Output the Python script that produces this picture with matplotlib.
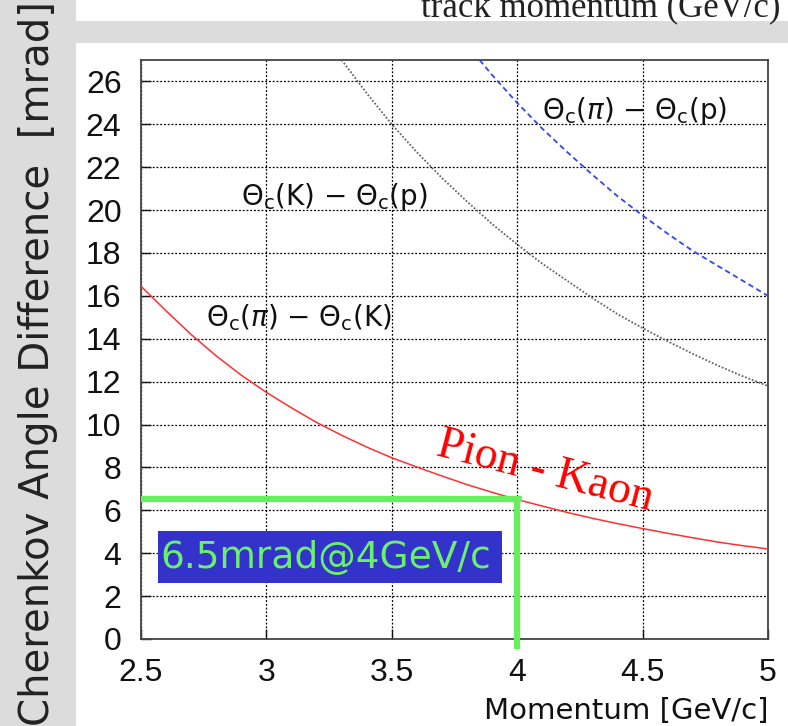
import numpy as np
import matplotlib
matplotlib.use('Agg')
import matplotlib.pyplot as plt
from matplotlib.patches import Rectangle

# momentum points (GeV/c) and angle differences (mrad)
p_pik = [2.5, 2.6, 2.7, 2.8, 2.9, 3.0, 3.1, 3.2, 3.3, 3.4, 3.5, 3.6, 3.7,
         3.8, 3.9, 4.0, 4.1, 4.2, 4.3, 4.4, 4.5, 4.6, 4.7, 4.8, 4.9, 5.0]
d_pik = [16.45, 15.3, 14.2, 13.2, 12.3, 11.5, 10.78, 10.1, 9.5, 8.95, 8.45, 8.02, 7.6,
         7.2, 6.84, 6.5, 6.2, 5.9, 5.63, 5.38, 5.15, 4.93, 4.72, 4.52, 4.35, 4.2]

p_kp = [3.3, 3.4, 3.5, 3.6, 3.7, 3.8, 3.9, 4.0, 4.1, 4.2, 4.3, 4.4, 4.5,
        4.6, 4.7, 4.8, 4.9, 5.0]
d_kp = [27.0, 25.45, 24.0, 22.7, 21.5, 20.4, 19.35, 18.4, 17.5, 16.7, 15.9, 15.15, 14.5,
        13.88, 13.3, 12.75, 12.25, 11.8]

p_pip = [3.85, 3.9, 4.0, 4.1, 4.2, 4.3, 4.4, 4.5, 4.6, 4.7, 4.8, 4.9, 5.0]
d_pip = [27.0, 26.3, 25.0, 23.8, 22.7, 21.65, 20.65, 19.75, 18.9, 18.1, 17.4, 16.7, 16.0]

xticks = [2.5, 3, 3.5, 4, 4.5, 5]
xtick_labels = ['2.5', '3', '3.5', '4', '4.5', '5']
yticks = list(range(0, 27, 2))

# working point marked in green
spec_p = 4.0
spec_d = 6.5

W, H = 788, 726
fig = plt.figure(figsize=(W / 100, H / 100), dpi=100)
fig.patch.set_facecolor('white')

# grey frame pieces of the slide
grey = '#dcdcdc'
fig.patches.append(Rectangle((0, 0), 76 / W, 1, transform=fig.transFigure,
                             facecolor=grey, edgecolor='none', zorder=0))
fig.patches.append(Rectangle((76 / W, 1 - 43 / H), 1, 22 / H, transform=fig.transFigure,
                             facecolor=grey, edgecolor='none', zorder=0))

fig.text(780 / W, 1 - 16 / H, 'track momentum (GeV/c)', ha='right', va='baseline',
         fontsize=25, family='Liberation Serif', color='#222222')

fig.text(38 / W, 0.5, 'Cherenkov Angle Difference  [mrad]', rotation=90,
         ha='center', va='center', fontsize=29, color='#222222')

ax = fig.add_axes([141 / W, 1 - 639 / H, (768 - 141) / W, (639 - 60) / H])
ax.set_xlim(2.5, 5)
ax.set_ylim(0, 27)

ax.plot(p_pik, d_pik, color='#ff3030', lw=1.1, zorder=3)
ax.plot(p_kp, d_kp, color='#666666', lw=1.3, linestyle=(0, (1, 1)), zorder=3)
ax.plot(p_pip, d_pip, color='#3344ff', lw=1.3, linestyle=(0, (3, 2)), zorder=3)

ax.set_xticks(xticks)
ax.set_xticklabels(xtick_labels)
ax.set_yticks(yticks)
ax.tick_params(direction='in', length=7, width=1, pad=14, labelsize=23,
               colors='#111111')
for lab in ax.get_xticklabels() + ax.get_yticklabels():
    lab.set_family('Liberation Sans')
ax.grid(True, color='black', linestyle=(0, (1.5, 1.5)), lw=0.9)
ax.set_axisbelow(True)
for s in ax.spines.values():
    s.set_color('#444444')
    s.set_linewidth(1.3)

ax.set_xlabel('Momentum [GeV/c]', fontsize=21, color='#111111')
ax.xaxis.set_label_coords(1.0, -0.1)
ax.xaxis.label.set_ha('right')

lab_kw = dict(fontsize=20, va='center', ha='left', color='#111111', zorder=4)
ax.text(2.76, 15.0, r'$\Theta_{\mathrm{c}}$($\pi$) $-$ $\Theta_{\mathrm{c}}$(K)', **lab_kw)
ax.text(2.90, 20.6, r'$\Theta_{\mathrm{c}}$(K) $-$ $\Theta_{\mathrm{c}}$(p)', **lab_kw)
ax.text(4.10, 24.6, r'$\Theta_{\mathrm{c}}$($\pi$) $-$ $\Theta_{\mathrm{c}}$(p)', **lab_kw)

ax.text(4.11, 7.8, 'Pion - Kaon', rotation=-14.5, rotation_mode='anchor',
        ha='center', va='center', fontsize=33, family='Liberation Serif',
        color='#ff0000', zorder=4)

green = '#66f060'
ax.plot([2.5, spec_p + 0.02], [spec_d + 0.05, spec_d + 0.05], color=green, lw=4.5,
        solid_capstyle='butt', clip_on=False, zorder=5)
ax.plot([spec_p, spec_p], [spec_d + 0.05, -0.45], color=green, lw=4.5,
        solid_capstyle='butt', clip_on=False, zorder=5)

ax.add_patch(Rectangle((2.568, 2.6), 1.372, 2.43, facecolor='#3333cc',
                       edgecolor='none', zorder=5))
ax.text(2.578, 3.8, '6.5mrad@4GeV/c', ha='left', va='center', fontsize=27,
        color='#6cf06c', zorder=6)

fig.savefig('out.png', dpi=100)
